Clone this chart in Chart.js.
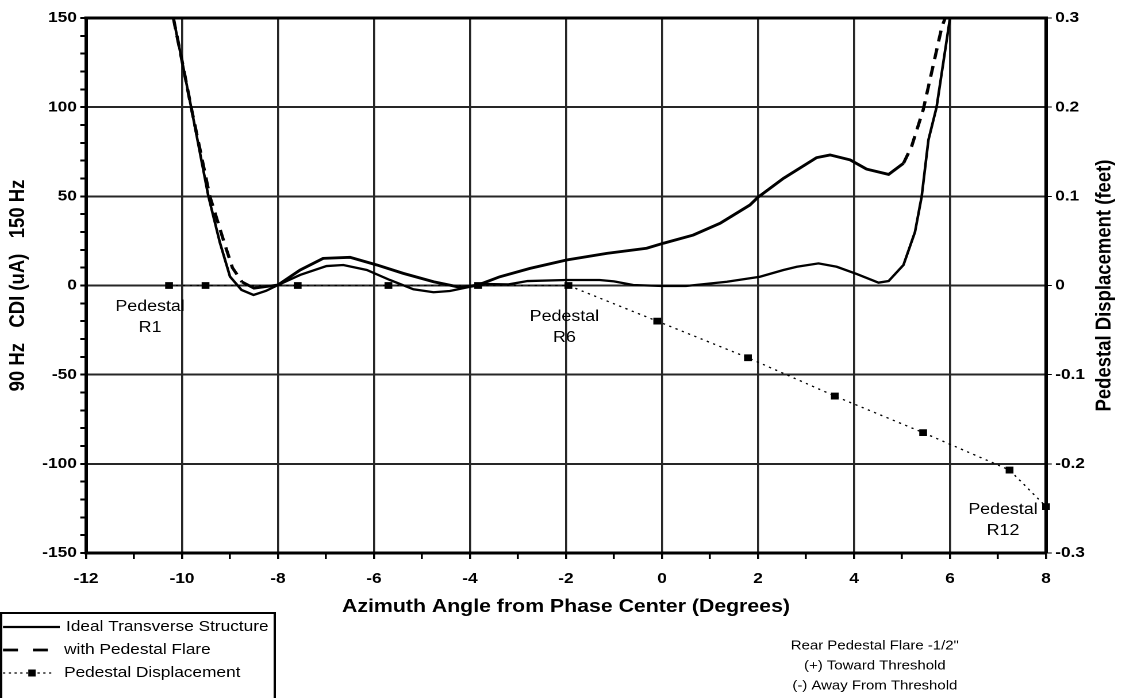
<!DOCTYPE html>
<html>
<head>
<meta charset="utf-8">
<script src="https://cdn.jsdelivr.net/npm/chart.js@4.4.1/dist/chart.umd.min.js"></script>
<style>
  html, body { margin: 0; padding: 0; background: #fff; overflow: hidden; }
  /* the reference is stretched sideways, so the chart is drawn narrower and scaled */
  #wrap { width: 976px; height: 698px; transform: scaleX(1.1496); transform-origin: 0 0; }
</style>
</head>
<body>
<div id="wrap"><canvas id="myChart"></canvas></div>
<script>
// Ideal Transverse Structure (CDI, uA)
const idealX = [-10.18, -10.0, -9.81, -9.45, -9.21, -9.0, -8.76, -8.51, -8.25, -8.0, -7.54, -6.99, -6.64, -6.15, -5.67, -5.18, -4.76, -4.42, -4.0, -3.65, -3.2, -2.8, -2.0, -1.3, -1.0, -0.6, 0.0, 0.5, 1.35, 2.04, 2.53, 2.81, 3.26, 3.64, 4.06, 4.51, 4.72, 5.03, 5.27, 5.41, 5.55, 5.72, 6.0];
const idealY = [150, 126, 100, 50, 24, 5, -2.5, -5.3, -3, 0.3, 5.9, 10.9, 11.5, 8.7, 3.1, -2.1, -3.8, -3.1, -0.7, 0.8, 0.6, 2.5, 3.1, 3.1, 2.3, 0.3, -0.3, -0.3, 2.1, 4.9, 8.7, 10.5, 12.4, 10.5, 6.4, 1.6, 2.5, 11.5, 30, 50, 81.6, 100, 150];

// with Pedestal Flare (CDI, uA)
const flareX = [-10.18, -10.0, -9.81, -9.42, -9.12, -8.95, -8.75, -8.5, -8.0, -7.54, -7.06, -6.5, -5.94, -5.39, -4.76, -4.21, -3.83, -3.38, -2.75, -1.99, -1.15, -0.32, 0.03, 0.65, 1.21, 1.83, 2.0, 2.53, 3.22, 3.5, 3.92, 4.26, 4.72, 5.03, 5.2, 5.44, 5.83, 5.9];
const flareY = [150, 126, 100, 50, 24, 10, 2, -1.5, 0.3, 8.7, 15.2, 15.8, 11.5, 6.8, 2.1, -1, 0.3, 4.9, 9.6, 14.3, 18.0, 20.9, 23.7, 28.3, 34.9, 45.1, 49.5, 60.1, 71.7, 73.2, 70.4, 65.3, 62.3, 68.5, 78, 98.4, 145, 150];

// Pedestal Displacement (feet), pedestals R1..R12
const pedNames = ["R1", "R2", "R3", "R4", "R5", "R6", "R7", "R8", "R9", "R10", "R11", "R12"];
const pedX = [-10.27, -9.51, -7.59, -5.70, -3.83, -1.95, -0.1, 1.79, 3.60, 5.44, 7.24, 8.0];
const pedY = [0, 0, 0, 0, 0, 0, -0.04, -0.081, -0.124, -0.165, -0.207, -0.248];

const legendNames = ["Ideal Transverse Structure", "with Pedestal Flare", "Pedestal Displacement"];
const noteLines = ["Rear Pedestal Flare -1/2\"", "(+) Toward Threshold", "(-) Away From Threshold"];

const FONT = "'Liberation Sans', Arial, sans-serif";

function toPoints(xs, ys) {
  return xs.map((x, i) => ({ x: x, y: ys[i] }));
}

// dashes only show on steep stretches, like the old spreadsheet drawing
function steepDash(ctx) {
  const dx = Math.abs(ctx.p1.x - ctx.p0.x);
  const dy = Math.abs(ctx.p1.y - ctx.p0.y);
  return dy > 1.5 * dx ? [11, 7] : [];
}

const extras = {
  id: "extras",
  afterDraw(chart) {
    const ctx = chart.ctx;
    const area = chart.chartArea;
    const xs = chart.scales.x;
    const y2 = chart.scales.y2;

    ctx.save();
    // top border of the plot
    ctx.strokeStyle = "#000";
    ctx.lineWidth = 3;
    ctx.beginPath();
    ctx.moveTo(area.left - 1.5, area.top);
    ctx.lineTo(area.right + 1.5, area.top);
    ctx.stroke();

    // right axis title, reading upwards
    ctx.fillStyle = "#000";
    ctx.font = "bold 18.5px " + FONT;
    ctx.textAlign = "center";
    ctx.textBaseline = "middle";
    ctx.translate(961, (area.top + area.bottom) / 2);
    ctx.rotate(-Math.PI / 2);
    ctx.fillText("Pedestal Displacement (feet)", 0, 0);
    ctx.restore();

    // pedestal labels
    ctx.save();
    ctx.fillStyle = "#000";
    ctx.font = "15.5px " + FONT;
    ctx.textAlign = "center";
    ctx.textBaseline = "middle";
    [[0, -16.5, 21], [5, -3.5, 31], [11, -37.4, 3]].forEach(([i, ox, oy]) => {
      const px = xs.getPixelForValue(pedX[i]) + ox;
      const py = y2.getPixelForValue(pedY[i]) + oy;
      ctx.fillText("Pedestal", px, py);
      ctx.fillText(pedNames[i], px, py + 21);
    });

    // notes at bottom right
    ctx.font = "13px " + FONT;
    noteLines.forEach((t, i) => ctx.fillText(t, 761, 646 + i * 20));

    // legend box
    ctx.strokeStyle = "#000";
    ctx.lineWidth = 2;
    ctx.strokeRect(1, 613, 238, 100);
    ctx.textAlign = "left";
    ctx.font = "15px " + FONT;
    const ds = chart.data.datasets;
    const rows = [627, 650, 673];
    const dashes = [[], [13, 13], [2, 3]];
    const widths = [2.3, 2.8, 1.2];
    rows.forEach((ry, i) => {
      ctx.setLineDash(dashes[i]);
      ctx.lineWidth = widths[i];
      ctx.strokeStyle = ds[i].borderColor;
      ctx.beginPath();
      ctx.moveTo(2.6, ry);
      ctx.lineTo(i === 0 ? 52 : 46, ry);
      ctx.stroke();
      ctx.setLineDash([]);
      ctx.fillText(legendNames[i], i === 0 ? 57.4 : 55.7, ry);
    });
    ctx.fillStyle = "#000";
    ctx.fillRect(27.8 - 3.2, rows[2] - 3.5, 6.4, 7);
    ctx.restore();
  }
};

const tickFont = { family: FONT, size: 15, weight: "bold" };
const gridGray = "#262626";

new Chart(document.getElementById("myChart").getContext("2d"), {
  type: "scatter",
  data: {
    datasets: [
      {
        label: legendNames[0],
        data: toPoints(idealX, idealY),
        showLine: true,
        borderColor: "#000",
        borderWidth: 2.3,
        pointRadius: 0,
        tension: 0,
        yAxisID: "y"
      },
      {
        label: legendNames[1],
        data: toPoints(flareX, flareY),
        showLine: true,
        borderColor: "#000",
        borderWidth: 2.8,
        pointRadius: 0,
        tension: 0,
        segment: { borderDash: steepDash },
        yAxisID: "y"
      },
      {
        label: legendNames[2],
        data: toPoints(pedX, pedY),
        showLine: true,
        borderColor: "#000",
        borderWidth: 1.3,
        borderDash: [2, 4],
        pointStyle: "rect",
        pointRadius: 4.8,
        pointBackgroundColor: "#000",
        pointBorderWidth: 0,
        tension: 0,
        clip: 6,
        yAxisID: "y2"
      }
    ]
  },
  options: {
    responsive: true,
    maintainAspectRatio: false,
    animation: false,
    devicePixelRatio: 2,
    layout: { padding: { top: 18, left: 0, right: 0, bottom: 0 } },
    plugins: {
      legend: { display: false },
      tooltip: { enabled: false }
    },
    scales: {
      x: {
        type: "linear",
        position: "bottom",
        min: -12,
        max: 8,
        ticks: {
          stepSize: 1,
          autoSkip: false,
          maxRotation: 0,
          padding: 11,
          color: "#000",
          font: tickFont,
          callback: v => (v % 2 === 0 ? String(v) : "")
        },
        grid: {
          color: c => (c.tick && c.tick.value % 2 === 0 ? gridGray : "rgba(0,0,0,0)"),
          lineWidth: 1.8,
          tickColor: "#000",
          tickLength: 6
        },
        border: { color: "#000", width: 3 },
        title: {
          display: true,
          text: "Azimuth Angle from Phase Center (Degrees)",
          color: "#000",
          font: { family: FONT, size: 18.5, weight: "bold" },
          padding: { top: 0, bottom: 80 }
        },
        afterFit: s => { s.height = 145; }
      },
      y: {
        position: "left",
        min: -150,
        max: 150,
        ticks: {
          stepSize: 10,
          autoSkip: false,
          padding: 3,
          color: "#000",
          font: tickFont,
          callback: v => (v % 50 === 0 ? String(v) : "")
        },
        grid: {
          color: c => (c.tick && c.tick.value % 50 === 0 ? gridGray : "rgba(0,0,0,0)"),
          lineWidth: 2,
          tickColor: "#000",
          tickLength: 5
        },
        border: { color: "#000", width: 3 },
        title: {
          display: true,
          text: "90 Hz   CDI (uA)   150 Hz",
          color: "#000",
          font: { family: FONT, size: 18.5, weight: "bold" },
          padding: { top: 5, bottom: 0 }
        },
        afterFit: s => { s.width = 74.8; }
      },
      y2: {
        position: "right",
        min: -0.3,
        max: 0.3,
        ticks: {
          stepSize: 0.1,
          padding: 3,
          color: "#000",
          font: tickFont,
          callback: v => String(Math.round(v * 10) / 10)
        },
        grid: {
          drawOnChartArea: false,
          tickColor: "#000",
          tickLength: 5
        },
        border: { color: "#000", width: 3 },
        afterFit: s => { s.width = 66.1; }
      }
    }
  },
  plugins: [extras]
});
</script>
</body>
</html>
